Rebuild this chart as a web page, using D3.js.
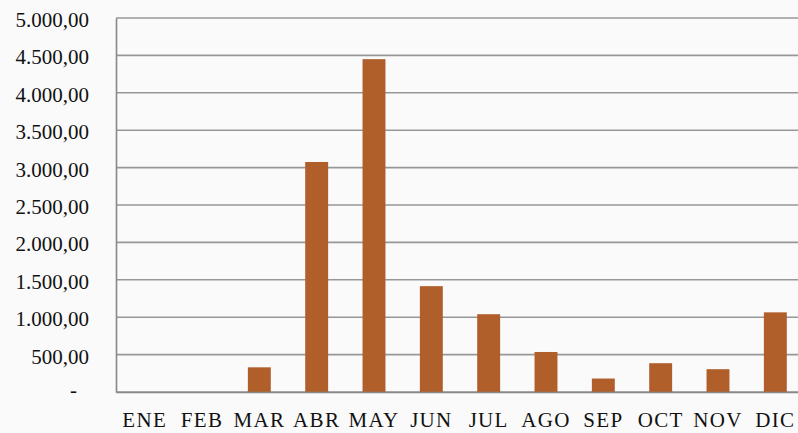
<!DOCTYPE html>
<html lang="es">
<head>
<meta charset="UTF-8">
<title>Monthly bars</title>
<script src="https://d3js.org/d3.v7.min.js"></script>
<style>
    body { margin: 0; background: #fafafa; }
    svg { display: block; }
</style>
</head>
<body>
<div id="chart"></div>
<script>
    // Data
    const months = ["ENE", "FEB", "MAR", "ABR", "MAY", "JUN", "JUL", "AGO", "SEP", "OCT", "NOV", "DIC"];
    const values = [0, 0, 330, 3075, 4450, 1415, 1040, 535, 180, 385, 305, 1065];
    const yTicks = [0, 500, 1000, 1500, 2000, 2500, 3000, 3500, 4000, 4500, 5000];

    const W = 798, H = 433;
    const margin = { top: 18, right: -6, bottom: 41, left: 116 };
    const width = W - margin.left - margin.right,
          height = H - margin.top - margin.bottom;

    const svg = d3.select("#chart").append("svg")
        .attr("width", W)
        .attr("height", H)
        .append("g")
        .attr("transform", `translate(${margin.left},${margin.top})`);

    const x = d3.scaleBand().domain(months).range([0, width]).paddingInner(0.6).paddingOuter(0.3);
    const y = d3.scaleLinear().domain([0, 5000]).range([height, 0]);

    // Spanish number format: 5.000,00
    const es = d3.formatLocale({ decimal: ",", thousands: ".", grouping: [3], currency: ["", ""] });
    const fmt = es.format(",.2f");

    // gridlines
    svg.append("g")
        .selectAll("line")
        .data(yTicks)
        .join("line")
        .attr("x1", 0).attr("x2", width)
        .attr("y1", d => y(d)).attr("y2", d => y(d))
        .attr("stroke", "#979797")
        .attr("stroke-width", 1.6);

    // bars
    svg.selectAll("rect.bar")
        .data(months.map((m, i) => ({ m, v: values[i] })))
        .join("rect")
        .attr("class", "bar")
        .attr("x", d => x(d.m))
        .attr("y", d => y(d.v))
        .attr("width", x.bandwidth())
        .attr("height", d => height - y(d.v))
        .attr("fill", "#b05f2b");

    // y axis
    const yAxis = svg.append("g")
        .call(d3.axisLeft(y).tickValues(yTicks).tickSize(0).tickPadding(27)
            .tickFormat(d => d === 0 ? "-" : fmt(d)));
    yAxis.select(".domain").attr("stroke", "#888").attr("stroke-width", 1.6);
    yAxis.selectAll(".tick").filter(d => d === 0).select("text").attr("x", -39);

    // x axis
    const xAxis = svg.append("g")
        .attr("transform", `translate(0,${height})`)
        .call(d3.axisBottom(x).tickSize(0).tickPadding(20));
    xAxis.select(".domain").attr("stroke", "#888").attr("stroke-width", 1.6);

    // serif labels, set on each text node
    svg.selectAll(".tick text")
        .style("font-family", "'Liberation Serif', serif")
        .style("font-size", "21px")
        .attr("fill", "#111");
    yAxis.selectAll(".tick text").attr("dy", "0.4em");
    yAxis.selectAll(".tick").filter(d => d === 0).select("text").attr("dy", "0.2em");
    xAxis.selectAll(".tick text").attr("dy", "0.72em").style("letter-spacing", "1.3px");
</script>
</body>
</html>
